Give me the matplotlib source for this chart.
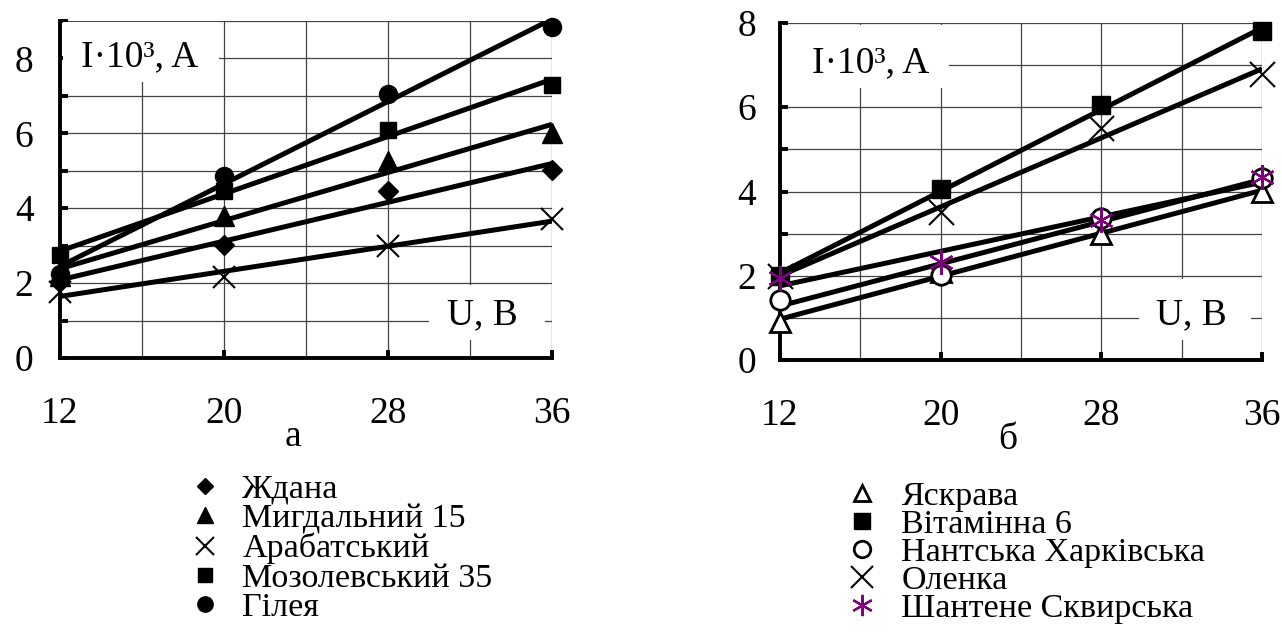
import matplotlib
matplotlib.use('Agg')
import matplotlib.pyplot as plt
import matplotlib.patches as mpatches
from matplotlib.lines import Line2D
import numpy as np

plt.rcParams['font.family'] = ['Liberation Serif', 'DejaVu Serif']

BLACK = '#000000'
GRID = '#444444'
PURPLE = '#800080'
FS = 27        # tick labels, axis captions
FS_LEG = 24.5  # legend text

# voltage, V
U = [12, 20, 28, 36]

# panel а: current I*10^3, A
zhdana = [2.05, 3.03, 4.45, 5.03]
myhdalnyi = [2.2, 3.8, 5.25, 6.0]
arabatskyi = [1.75, 2.15, 3.0, 3.7]
mozolevskyi = [2.75, 4.45, 6.1, 7.3]
hileia = [2.25, 4.85, 7.05, 8.85]

# panel б
yaskrava = [0.9, 2.1, 3.0, 4.0]
vitaminna = [2.0, 4.05, 6.05, 7.8]
nantska = [1.43, 2.02, 3.37, 4.32]
olenka = [2.0, 3.52, 5.5, 6.8]
shantene = [1.95, 2.33, 3.33, 4.35]

labels_a = ['Ждана', 'Мигдальний 15', 'Арабатський', 'Мозолевський 35', 'Гілея']
labels_b = ['Яскрава', 'Вітамінна 6', 'Нантська Харківська', 'Оленка', 'Шантене Сквирська']

asterisk = (6, 2, 0)

styles_a = [
    dict(marker='D', ms=10, mfc=BLACK, mec=BLACK),
    dict(marker='^', ms=14, mfc=BLACK, mec=BLACK),
    dict(marker='x', ms=16, mfc=BLACK, mec=BLACK, mew=1.5),
    dict(marker='s', ms=12, mfc=BLACK, mec=BLACK),
    dict(marker='o', ms=13, mfc=BLACK, mec=BLACK),
]
styles_b = [
    dict(marker='^', ms=14, mfc='white', mec=BLACK, mew=2),
    dict(marker='s', ms=13, mfc=BLACK, mec=BLACK),
    dict(marker='o', ms=14, mfc='white', mec=BLACK, mew=2),
    dict(marker='x', ms=18, mfc=BLACK, mec=BLACK, mew=1.5),
    dict(marker=asterisk, ms=18, mfc=PURPLE, mec=PURPLE, mew=1.6),
]

W, H = 1282, 634
fig = plt.figure(figsize=(W / 100, H / 100), dpi=100, facecolor='white')


def px_axes(x0, y0, x1, y1):
    return fig.add_axes([x0 / W, 1 - y1 / H, (x1 - x0) / W, (y1 - y0) / H])


def style_axes(ax, ymax, ypad):
    ax.set_xlim(12, 36)
    ax.set_ylim(0, ymax)
    ax.set_xticks([12, 20, 28, 36])
    ax.set_xticks([16, 24, 32], minor=True)
    ax.set_yticks(np.arange(0, ymax + 1, 2))
    ax.set_yticks(np.arange(1, ymax + 1, 2), minor=True)
    ax.grid(True, which='both', color=GRID, linewidth=0.9)
    ax.set_axisbelow(True)
    for s in ['top', 'right']:
        ax.spines[s].set_visible(False)
    for s in ['left', 'bottom']:
        ax.spines[s].set_linewidth(2.8)
    ax.tick_params(axis='x', which='major', direction='in', length=6, width=2.8,
                   pad=28, labelsize=FS)
    ax.tick_params(axis='x', which='minor', length=0)
    ax.tick_params(axis='y', which='both', direction='in', length=6, width=2.8,
                   pad=ypad, labelsize=FS)


def draw_series(ax, series, styles):
    # straight trend lines through each set of points
    for ys in series:
        k, b = np.polyfit(U, ys, 1)
        xs = np.array([U[0], U[-1]])
        ax.plot(xs, k * xs + b, color=BLACK, lw=3.6, solid_capstyle='butt', zorder=3)
    for ys, st in zip(series, styles):
        ax.plot(U, ys, ls='none', zorder=4, clip_on=False, **st)


def caption(ax, x0, y0, w, h, tx, ty, s):
    # white patch hides the grid behind the axis caption
    ax.add_patch(mpatches.Rectangle((x0, y0), w, h, facecolor='white',
                                    edgecolor='none', zorder=1.5))
    ax.text(tx, ty, s, fontsize=FS, ha='center', va='center', zorder=5)


# ---- panel а
ax1 = px_axes(60, 21, 552, 358)
style_axes(ax1, 9, 19)
draw_series(ax1, [zhdana, myhdalnyi, arabatskyi, mozolevskyi, hileia], styles_a)
caption(ax1, 12.15, 7.37, 7.6, 1.6, 15.9, 8.05, 'I·10³, A')
caption(ax1, 30.0, 0.48, 5.66, 1.48, 32.6, 1.15, 'U, B')

# ---- panel б
ax2 = px_axes(780, 23, 1262, 360)
style_axes(ax2, 8, 17)
draw_series(ax2, [yaskrava, vitaminna, nantska, olenka, shantene], styles_b)
caption(ax2, 12.1, 6.46, 8.3, 1.5, 16.5, 7.05, 'I·10³, A')
caption(ax2, 29.9, 0.48, 5.55, 1.45, 32.5, 1.07, 'U, B')

# panel letters
fig.text(293 / W, 1 - 437 / H, 'а', fontsize=FS, ha='center', va='center')
fig.text(1008 / W, 1 - 440 / H, 'б', fontsize=FS, ha='center', va='center')


# legends
def legend_handles(styles, labels):
    hs = []
    for st, l in zip(styles, labels):
        st = dict(st)
        st['ms'] = st['ms'] * 0.85
        hs.append(Line2D([0], [0], ls='none', label=l, **st))
    return hs


fig.legend(handles=legend_handles(styles_a, labels_a), loc='upper left',
           bbox_to_anchor=(188 / W, 1 - 474 / H), frameon=False, fontsize=FS_LEG,
           handlelength=1.0, handletextpad=0.6, labelspacing=-0.04,
           borderpad=0, borderaxespad=0)
fig.legend(handles=legend_handles(styles_b, labels_b), loc='upper left',
           bbox_to_anchor=(845 / W, 1 - 481 / H), frameon=False, fontsize=FS_LEG,
           handlelength=1.0, handletextpad=0.66, labelspacing=-0.08,
           borderpad=0, borderaxespad=0)

fig.savefig('out.png', dpi=100, facecolor='white')
